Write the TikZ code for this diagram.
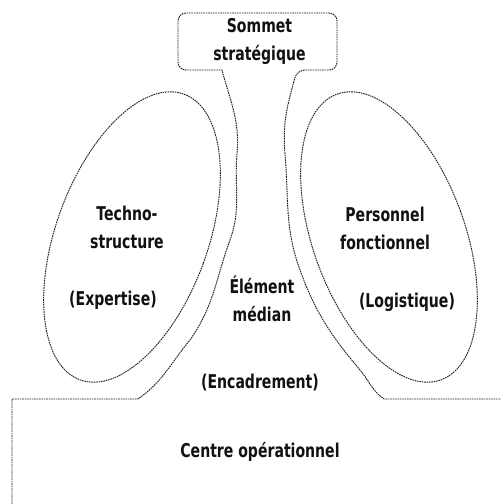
\documentclass[tikz,border=0pt]{standalone}
\usepackage{fontspec}
\setmainfont{DejaVu Sans}[FakeStretch=0.74]
\usepackage{tikz}
\usetikzlibrary{positioning, calc}
\definecolor{EdgeGray}{HTML}{222222}
\definecolor{InkBlack}{HTML}{111111}

\begin{document}
\begin{tikzpicture}[x=1pt, y=1pt,
    outline/.style={draw=EdgeGray, line width=0.95pt, dash pattern=on 1.6pt off 0.8pt},
    lbl/.style={font=\fontsize{19}{28}\selectfont\bfseries, color=InkBlack, align=center, inner sep=0pt}]
    \useasboundingbox (0,0) rectangle (501,504);

    % centre, ligne hierarchique et sommet : un seul contour
    \draw[outline] (12,0) -- (12,105) -- (138,105)
        to[out=35, in=-130] (190,164) to[out=55, in=-110] (230,264) to[out=70, in=-95] (237,350) to[out=85, in=-75] (222,434)
        [rounded corners=8pt] -- (178,434) -- (178,491) -- (337,491) -- (337,434) -- (297,434) [sharp corners]
        to[out=-105, in=95] (285,350) to[out=-85, in=110] (300,234) to[out=-70, in=130] (360,134) to[out=-50, in=145] (384,105) -- (501,105);

    % fonctions de support
    \draw[outline, rotate around={-20:(132,267)}] (132,267) ellipse (76pt and 152pt);
    \draw[outline, rotate around={20:(389,267)}] (389,267) ellipse (76pt and 152pt);

    \node[lbl] (sommet) at (259.5,462) {Sommet\\stratégique};
    \node[lbl] (techno) at (127,277) {Techno-\\structure};
    \node[lbl] (expertise) at (113,204) {(Expertise)};
    \node[lbl] (fonctionnel) at (385,276) {Personnel\\fonctionnel};
    \node[lbl] (logistique) at (407,202) {(Logistique)};
    \node[lbl] (median) at (262,205) {Élément\\médian};
    \node[lbl] (encadrement) at (260,121) {(Encadrement)};
    \node[lbl] (centre) at (260,52) {Centre opérationnel};
\end{tikzpicture}
\end{document}
